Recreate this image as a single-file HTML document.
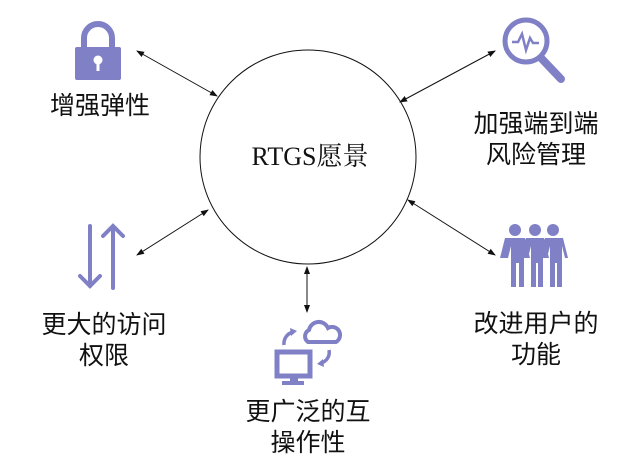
<!DOCTYPE html>
<html><head><meta charset="utf-8"><style>
body{margin:0;background:#fff;width:618px;height:462px;overflow:hidden;position:relative;font-family:"Liberation Sans","Noto Sans CJK SC",sans-serif}
.t{position:absolute;font-size:25px;color:#111;text-align:center;line-height:31px;white-space:nowrap}
</style></head><body>
<svg width="618" height="462" style="position:absolute;left:0;top:0">
<defs><marker id="a" markerWidth="8" markerHeight="8" refX="7" refY="4" orient="auto-start-reverse" markerUnits="userSpaceOnUse"><path d="M0,1 L8,4 L0,7z" fill="#111"/></marker></defs>
<ellipse cx="308" cy="157" rx="108" ry="107" fill="#fff" stroke="#111" stroke-width="1"/>
<g stroke="#111" stroke-width="1" marker-start="url(#a)" marker-end="url(#a)">
<line x1="137" y1="51" x2="217" y2="96"/>
<line x1="495" y1="51" x2="400" y2="102"/>
<line x1="137" y1="255" x2="208" y2="210"/>
<line x1="408" y1="200" x2="495" y2="255"/>
<line x1="307" y1="267" x2="307" y2="312"/>
</g>
<g fill="#8080c6" stroke="#8080c6">
<path d="M84,49 V38 a14,14 0 0 1 28,0 V49" fill="none" stroke-width="6"/>
<rect x="75" y="47" width="46" height="33" rx="2" stroke="none"/>
<circle cx="98" cy="60" r="4.5" fill="#fff" stroke="none"/>
<rect x="96.5" y="61" width="3" height="10" fill="#fff" stroke="none"/>
<circle cx="526" cy="41" r="21" fill="none" stroke-width="5"/>
<line x1="541" y1="58" x2="561" y2="79" stroke-width="8" stroke-linecap="round"/>
<path d="M512,42 h6 l4,-8 l4,16 l4,-12 l3,5 h6" fill="none" stroke-width="2.5"/>
<g fill="none" stroke-width="4" stroke-linecap="round">
<line x1="90" y1="226" x2="90" y2="286"/><path d="M80,276 L90,286 L100,276"/>
<line x1="113" y1="288" x2="113" y2="227"/><path d="M103,236 L113,226 L123,236"/>
</g>
<g stroke="none">
<circle cx="515" cy="230" r="6"/><circle cx="535" cy="230" r="6"/><circle cx="553" cy="230" r="6"/>
<path d="M500,258 l5,-20 h20 l5,20 h-3 l-3,-12 v41 h-5 v-24 h-3 v24 h-5 v-41 l-3,12z"/>
<path d="M521,258 l5,-20 h18 l5,20 h-3 l-3,-12 v41 h-5 v-24 h-2 v24 h-5 v-41 l-3,12z"/>
<path d="M540,258 l5,-20 h18 l5,20 h-3 l-3,-12 v41 h-5 v-24 h-2 v24 h-5 v-41 l-3,12z"/>
</g>
<rect x="277" y="352" width="33" height="24" fill="none" stroke-width="5"/>
<rect x="290" y="377" width="8" height="5" stroke="none"/>
<rect x="282" y="381" width="22" height="4" stroke="none"/>
<path d="M308,342 a7,7 0 0 1 1,-12 a10,10 0 0 1 19,-2 a8,8 0 0 1 8,14z" fill="none" stroke-width="4"/>
<path d="M284,345 a12,12 0 0 1 9,-13" fill="none" stroke-width="3.5"/><path d="M290,328 l7,3 l-6,5z" stroke="none"/>
<path d="M329,350 a11,11 0 0 1 -8,13" fill="none" stroke-width="3.5"/><path d="M324,367 l-7,-3 l6,-5z" stroke="none"/>
</g>
</svg>
<div class="t" style="left:230px;top:141px;font-family:'Liberation Serif','Noto Serif CJK SC',serif;font-size:26px;width:160px">RTGS愿景</div>
<div class="t" style="left:40px;top:91px;width:120px">增强弹性</div>
<div class="t" style="left:472px;top:109px;width:128px">加强端到端<br>风险管理</div>
<div class="t" style="left:40px;top:310px;width:128px">更大的访问<br>权限</div>
<div class="t" style="left:472px;top:309px;width:128px">改进用户的<br>功能</div>
<div class="t" style="left:244px;top:397px;width:128px">更广泛的互<br>操作性</div>
</body></html>
